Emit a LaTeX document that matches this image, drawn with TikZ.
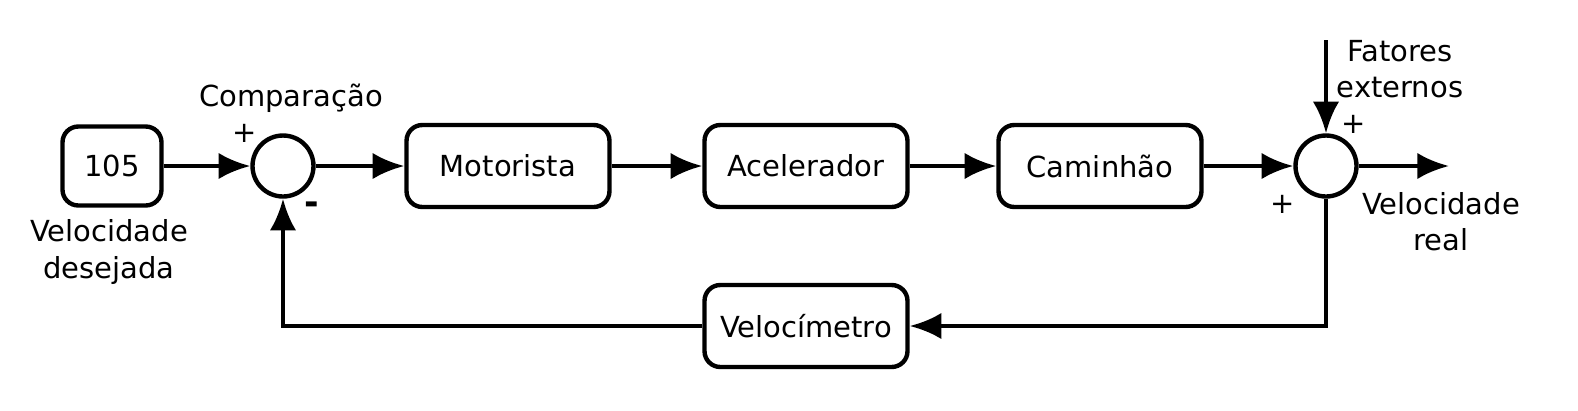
\documentclass[tikz,border=0pt]{standalone}
\usepackage{fontspec}
\setmainfont{DejaVu Sans}
\usetikzlibrary{arrows.meta, positioning}
\tikzset{
  block/.style={draw, line width=2.5pt, rounded corners=9pt, minimum width=4.06cm, minimum height=1.64cm, font=\fontsize{16.5}{20.5}\selectfont},
  sumnode/.style={draw, circle, line width=2.5pt, minimum size=1.22cm, inner sep=0pt},
  sig/.style={line width=2.5pt, -{Latex[length=18pt,width=15pt]}},
  lbl/.style={font=\fontsize{16.5}{20.5}\selectfont, align=center, inner sep=0pt},
}
\begin{document}
\begin{tikzpicture}[x=0.02cm, y=-0.02cm]
  \useasboundingbox (0,0) rectangle (1578,410);
  % forward path
  \node[block, minimum width=1.98cm, minimum height=1.58cm] (ref) at (112,166) {105};
  \node[sumnode] (sum1) at (283,166) {};
  \node[block] (motor) at (508,166) {Motorista};
  \node[block] (acel) at (806,166) {Acelerador};
  \node[block] (cam) at (1100,166) {Caminhão};
  \node[sumnode] (sum2) at (1326,166) {};
  \node[block] (velo) at (806,326) {Velocímetro};
  \coordinate (dist) at (1326,40);
  \coordinate (out) at (1449,166);

  \draw[sig] (ref) -- (sum1);
  \draw[sig] (sum1) -- (motor);
  \draw[sig] (motor) -- (acel);
  \draw[sig] (acel) -- (cam);
  \draw[sig] (cam) -- (sum2);
  \draw[sig] (sum2) -- (out);
  \draw[sig] (dist) -- (sum2);
  % feedback
  \draw[sig] (sum2.south) |- (velo.east);
  \draw[sig] (velo.west) -| (sum1.south);

  % labels
  \node[lbl] (lcomp) at (291,98) {Comparação};
  \node[lbl] (lp1) at (245,133) {+};
  \node[lbl, font=\fontsize{20}{20}\selectfont\bfseries] (lm1) at (312,208) {-};
  \node[lbl] (lref) at (109,252) {Velocidade\\desejada};
  \node[lbl] (lfat) at (1400,69) {Fatores\\externos};
  \node[lbl] (lp2) at (1354,124) {+};
  \node[lbl] (lp3) at (1283,204) {+};
  \node[lbl] (lout) at (1441,222) {Velocidade\\real};
\end{tikzpicture}
\end{document}
